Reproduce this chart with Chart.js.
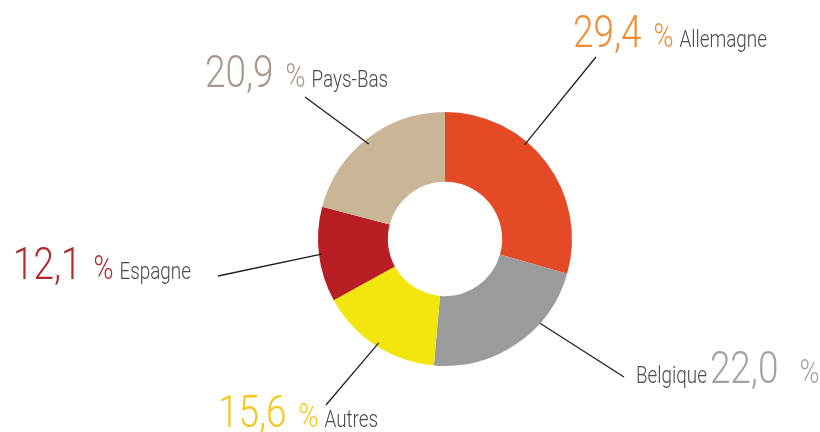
<!DOCTYPE html>
<html><head><meta charset="utf-8">
<script src="https://cdn.jsdelivr.net/npm/chart.js@4/dist/chart.umd.min.js"></script>
<style>html,body{margin:0;padding:0;background:#fff;}canvas{display:block;}</style>
</head><body>
<canvas id="c" width="820" height="432"></canvas>
<script>
const categories = ['Allemagne', 'Belgique', 'Autres', 'Espagne', 'Pays-Bas'];
const values = [29.4, 22.0, 15.6, 12.1, 20.9];
const valueLabels = ['29,4', '22,0', '15,6', '12,1', '20,9'];
const sliceColors = ['#E44A25', '#999C9B', '#F2E60E', '#B81E24', '#C8B697'];
const valueColors = ['#F28B33', '#A2A2A2', '#F6C61C', '#B1282D', '#A99686'];

// label layout (style/position only)
const labelLayout = [
  {ax: 0.38, ar: 0.97, ex: 596, ey: 57,  tx: 573, ty: 47,  order: ['v','p','n']},
  {ax: 0.325, ar: 1.0, ex: 624, ey: 377, tx: 636, ty: 383, order: ['n','v','p']},
  {ax: 0.49, ar: 0.97, ex: 326, ey: 405, tx: 218, ty: 427, order: ['v','p','n']},
  {ax: 0.5,  ar: 0.98, ex: 218, ey: 276, tx: 13,  ty: 279, order: ['v','p','n']},
  {ax: 0.485, ar: 0.96, ex: 305, ey: 97, tx: 205, ty: 87,  order: ['v','p','n']}
];

const SX = 0.82;
const FONT = 'Roboto, "Liberation Sans", sans-serif';

const labelPlugin = {
  id: 'leaderLabels',
  afterDatasetsDraw(chart) {
    const ctx = chart.ctx;
    const meta = chart.getDatasetMeta(0);
    meta.data.forEach((arc, i) => {
      const p = arc.getProps(['x','y','startAngle','endAngle','outerRadius'], true);
      const L = labelLayout[i];
      const a = p.startAngle + L.ax * (p.endAngle - p.startAngle);
      const sx = p.x + Math.cos(a) * p.outerRadius * L.ar;
      const sy = p.y + Math.sin(a) * p.outerRadius * L.ar;
      ctx.save();
      ctx.strokeStyle = '#1e1e1e';
      ctx.lineWidth = 1.3;
      ctx.beginPath();
      ctx.moveTo(sx, sy);
      ctx.lineTo(L.ex, L.ey);
      ctx.stroke();
      ctx.restore();

      let x = L.tx;
      const parts = {
        v: {text: valueLabels[i], font: '300 45px ' + FONT, color: valueColors[i]},
        p: {text: '%', font: '300 33px ' + FONT, color: valueColors[i]},
        n: {text: categories[i], font: '300 23px ' + FONT, color: '#4a4a4a'}
      };
      L.order.forEach((k, j) => {
        const pt = parts[k];
        ctx.save();
        ctx.font = pt.font;
        ctx.fillStyle = pt.color;
        ctx.textBaseline = 'alphabetic';
        ctx.textAlign = 'left';
        ctx.translate(x, L.ty);
        ctx.scale(SX, 1);
        ctx.fillText(pt.text, 0, 0);
        const w = ctx.measureText(pt.text).width * SX;
        ctx.restore();
        x += w;
        const next = L.order[j + 1];
        if (next) {
          if (k === 'v' && next === 'p') x += (i === 1 ? 21 : 12);
          else if (k === 'p' && next === 'n') x += 6;
          else if (k === 'n' && next === 'v') x += 3;
        }
      });
    });
  }
};

new Chart(document.getElementById('c'), {
  type: 'doughnut',
  data: {
    labels: categories,
    datasets: [{
      data: values,
      backgroundColor: sliceColors,
      borderWidth: 0
    }]
  },
  options: {
    responsive: false,
    animation: false,
    cutout: '45%',
    layout: {padding: {left: 318, right: 248, top: 112, bottom: 66}},
    plugins: {legend: {display: false}, tooltip: {enabled: false}}
  },
  plugins: [labelPlugin]
});
</script>
</body></html>
